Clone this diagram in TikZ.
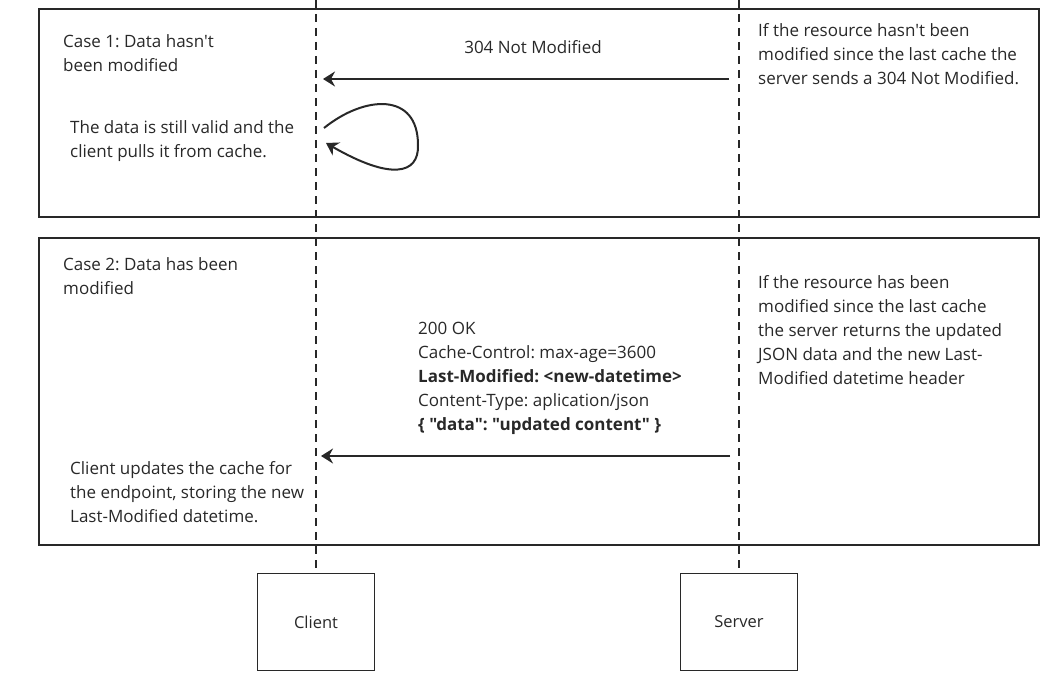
\documentclass[tikz,border=0pt]{standalone}
\usepackage{fontspec}
\setmainfont{Open Sans}[Ligatures=TeXOff]
\usetikzlibrary{arrows.meta}
\definecolor{ink}{RGB}{40,40,40}
\frenchspacing

\begin{document}
\begin{tikzpicture}[x=1pt,y=-1pt,>={Stealth[length=12pt,width=15pt,inset=4pt]},
		frame/.style={draw=ink,line width=1.6pt,minimum width=1000pt,anchor=north west,inner sep=0pt},
		actor/.style={draw=ink,line width=1.6pt,minimum width=117pt,minimum height=97pt,font={\fontsize{16.5}{20}\selectfont},text=ink},
		note/.style={align=left,anchor=north west,inner sep=0pt,text=ink,font={\fontsize{17}{24}\selectfont}},
		lifeline/.style={draw=ink,line width=1.6pt,dash pattern=on 8pt off 6pt},
		msg/.style={->,draw=ink,line width=2pt}]
	\useasboundingbox (0,0) rectangle (1049,685);
	% frames and actors
	\node[frame,minimum height=208pt] (case1) at (38,8) {};
	\node[frame,minimum height=307pt] (case2) at (38,237) {};
	\node[actor] (client) at (316,622) {Client};
	\node[actor] (server) at (739,622) {Server};
	\coordinate (ctop) at (316,0);
	\coordinate (stop) at (739,0);
	\draw[lifeline] (ctop) -- (client);
	\draw[lifeline] (stop) -- (server);
	% case 1
	\node[note] (case1title) at (63,34) {Case 1: Data hasn't\\been modified};
	\node[note,anchor=base] (notmod) at (533,54) {304 Not Modified};
	\node[note] (srvnote1) at (758,23) {If the resource hasn't been\\modified since the last cache the\\server sends a 304 Not Modified.};
	\node[note] (cachenote) at (70,120) {The data is still valid and the\\client pulls it from cache.};
	\coordinate (s1) at (729,79);
	\coordinate (c1) at (323,79);
	\draw[msg] (s1) -- (c1);
	\coordinate (l1) at (324,128);
	\coordinate (l2) at (418,145);
	\coordinate (l3) at (326,143);
	\draw[msg] (l1) .. controls (365,95) and (418,92) .. (l2) .. controls (419,175) and (390,180) .. (l3);
	% case 2
	\node[note] (case2title) at (63,257) {Case 2: Data has been\\modified};
	\node[note] (srvnote2) at (758,275) {If the resource has been\\modified since the last cache\\the server returns the updated\\JSON data and the new Last-\\Modified datetime header};
	\node[note] (reply) at (418,322) {200 OK\\Cache-Control: max-age=3600\\\textbf{Last-Modified: <new-datetime>}\\Content-Type: aplication/json\\\textbf{\{ "data": "updated content" \}}};
	\node[note] (updnote) at (70,461) {Client updates the cache for\\the endpoint, storing the new\\Last-Modified datetime.};
	\coordinate (s2) at (730,456);
	\coordinate (c2) at (321,456);
	\draw[msg] (s2) -- (c2);
\end{tikzpicture}
\end{document}
